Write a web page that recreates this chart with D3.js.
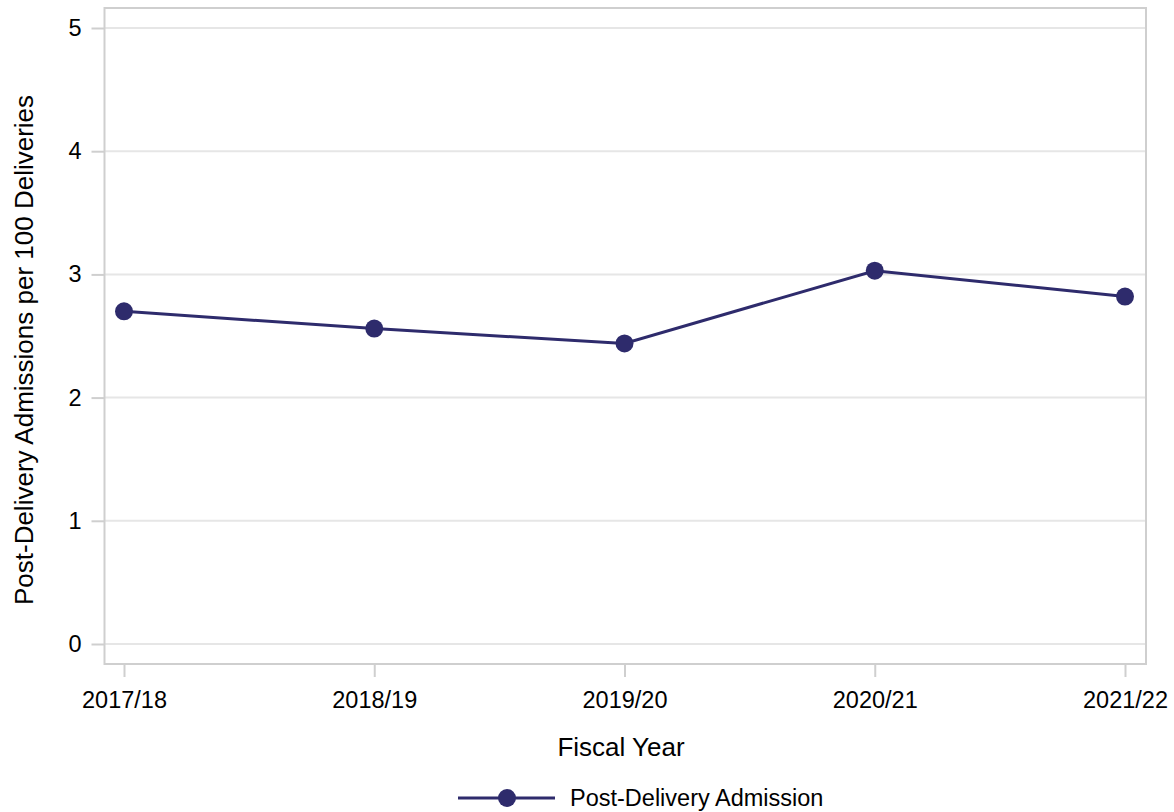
<!DOCTYPE html>
<html><head><meta charset="utf-8">
<script src="https://cdn.jsdelivr.net/npm/d3@7"></script>
<style>body{margin:0;background:#fff}svg{display:block}text{font-family:Arial,"Liberation Sans",sans-serif;fill:#000}</style>
</head><body><div id="c"></div>
<script>
const categories = ["2017/18","2018/19","2019/20","2020/21","2021/22"];
const values = [2.70, 2.56, 2.44, 3.03, 2.82];
const yTicks = [0,1,2,3,4,5];
const seriesName = "Post-Delivery Admission";
const xTitle = "Fiscal Year";
const yTitle = "Post-Delivery Admissions per 100 Deliveries";

const W=1174,H=812;
const color="#2e2b6c";
const FF="Arial,'Liberation Sans',sans-serif";
const svg=d3.select("#c").append("svg").attr("width",W).attr("height",H);
const frame={l:104.5,t:8,r:1146,b:664};
const x=d3.scalePoint().domain(categories).range([124,1125]);
const y=d3.scaleLinear().domain([0,5]).range([644,28]);

// gridlines
svg.append("g").selectAll("line").data(yTicks).join("line")
 .attr("x1",frame.l).attr("x2",frame.r).attr("y1",d=>y(d)).attr("y2",d=>y(d))
 .attr("stroke","#e6e6e6").attr("stroke-width",2);

// frame
svg.append("rect").attr("x",frame.l).attr("y",frame.t).attr("width",frame.r-frame.l).attr("height",frame.b-frame.t)
 .attr("fill","none").attr("stroke","#cfcfcf").attr("stroke-width",2);

// y axis
const ya=svg.append("g").attr("transform",`translate(${frame.l},0)`)
 .call(d3.axisLeft(y).tickValues(yTicks).tickSize(13).tickPadding(10).tickFormat(d3.format("d")));
ya.select(".domain").remove();
ya.selectAll("line").attr("stroke","#cfcfcf").attr("stroke-width",2);
ya.selectAll("text").attr("font-size",23.5).attr("font-family",FF).attr("fill","#000");

// x axis
const xa=svg.append("g").attr("transform",`translate(0,${frame.b})`)
 .call(d3.axisBottom(x).tickSize(13).tickPadding(14));
xa.select(".domain").remove();
xa.selectAll("line").attr("stroke","#cfcfcf").attr("stroke-width",2);
xa.selectAll("text").attr("font-size",23.5).attr("font-family",FF).attr("fill","#000");

// titles
svg.append("text").attr("x",621).attr("y",756).attr("text-anchor","middle").attr("font-size",26).text(xTitle);
svg.append("text").attr("transform",`translate(33,350) rotate(-90)`).attr("text-anchor","middle").attr("font-size",26).text(yTitle);

// line
const data=categories.map((c,i)=>({c,v:values[i]}));
svg.append("path").datum(data).attr("fill","none").attr("stroke",color).attr("stroke-width",3)
 .attr("d",d3.line().x(d=>x(d.c)).y(d=>y(d.v)));
svg.append("g").selectAll("circle").data(data).join("circle")
 .attr("cx",d=>x(d.c)).attr("cy",d=>y(d.v)).attr("r",9).attr("fill",color);

// legend
const lg=svg.append("g").attr("transform","translate(0,798)");
lg.append("line").attr("x1",458).attr("x2",555).attr("stroke",color).attr("stroke-width",3);
lg.append("circle").attr("cx",507).attr("r",9).attr("fill",color);
lg.append("text").attr("x",570).attr("y",8).attr("font-size",23.5).text(seriesName);
</script></body></html>
